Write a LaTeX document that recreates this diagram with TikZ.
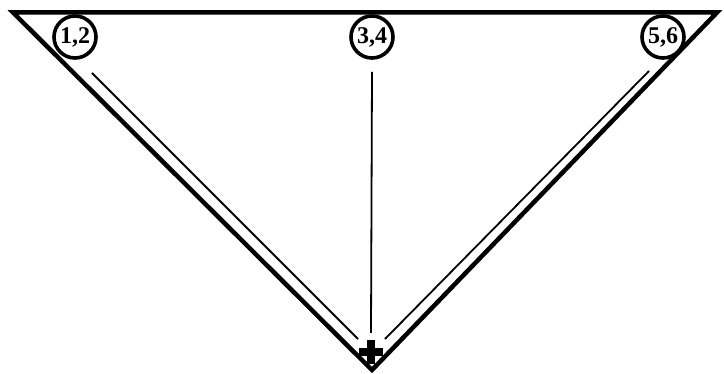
\documentclass[tikz,border=0pt]{standalone}
\usepackage{fontspec}
\setmainfont{Liberation Serif}
\begin{document}
\begin{tikzpicture}[x=1pt,y=-1pt,
  edge/.style={line width=4.5pt,line join=miter},
  inner/.style={line width=1.8pt},
  lbl/.style={circle,draw,line width=3.6pt,fill=white,minimum size=42pt,inner sep=0pt,font=\fontsize{24}{24}\selectfont\bfseries}]
\useasboundingbox (0,0) rectangle (724,374);
\coordinate (tl) at (13,12.5);
\coordinate (tr) at (717,12.5);
\coordinate (bt) at (372,370);
\draw[edge] (tl) -- (tr) -- (bt) -- cycle;
\node[lbl] (c12) at (75,37) {1,2};
\node[lbl] (c34) at (372,37) {3,4};
\node[lbl] (c56) at (663,37) {5,6};
\node[inner sep=0pt,minimum size=38pt] (plus) at (371,352) {};
\fill ([xshift=-12pt,yshift=-4pt]plus.center) rectangle ([xshift=12pt,yshift=4pt]plus.center);
\fill ([xshift=-4pt,yshift=-12pt]plus.center) rectangle ([xshift=4pt,yshift=12pt]plus.center);
\coordinate (l1) at (92,73);
\coordinate (l2) at (358,339);
\coordinate (r1) at (649,71);
\coordinate (r2) at (385,339);
\draw[inner] (l1) -- (l2);
\draw[inner] (r1) -- (r2);
\draw[inner] (c34.south) ++(0,12) -- (plus.north);
\end{tikzpicture}
\end{document}
